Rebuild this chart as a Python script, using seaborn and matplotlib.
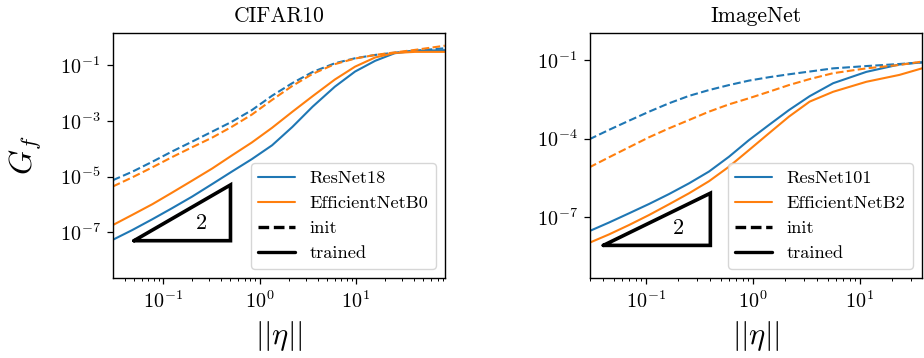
import matplotlib
matplotlib.use("Agg")
import matplotlib.pyplot as plt
from matplotlib.lines import Line2D
from matplotlib.ticker import NullLocator
import pandas as pd
import seaborn as sns

# ---------------- data ----------------
titles = ["CIFAR10", "ImageNet"]
models_cifar = ["ResNet18", "EfficientNetB0"]
models_imnet = ["ResNet101", "EfficientNetB2"]

cifar_eta = [0.0302, 0.0479, 0.0776, 0.123, 0.200, 0.324, 0.513, 0.832, 1.35, 2.19,
             3.55, 6.03, 9.77, 15.8, 25.1, 40.7, 83.2]
cifar_resnet_init = [7.4e-6, 1.48e-5, 3.4e-5, 7.8e-5, 1.78e-4, 4.1e-4, 9.1e-4, 2.4e-3, 7.9e-3, 2.24e-2,
                     5.6e-2, 0.115, 0.174, 0.229, 0.275, 0.324, 0.398]
cifar_effnet_init = [4.4e-6, 9.3e-6, 2.14e-5, 4.9e-5, 1.12e-4, 2.5e-4, 6.0e-4, 1.66e-3, 5.6e-3, 1.78e-2,
                     4.8e-2, 0.107, 0.170, 0.229, 0.282, 0.347, 0.49]
cifar_resnet_trained = [5.4e-8, 1.2e-7, 2.95e-7, 7.2e-7, 1.9e-6, 5.4e-6, 1.48e-5, 4.2e-5, 1.32e-4, 6.0e-4,
                        3.2e-3, 1.66e-2, 5.8e-2, 0.141, 0.263, 0.324, 0.339]
cifar_effnet_trained = [1.82e-7, 4.2e-7, 1.02e-6, 2.6e-6, 7.1e-6, 1.95e-5, 5.6e-5, 1.66e-4, 5.6e-4, 2.1e-3,
                        7.6e-3, 3.0e-2, 8.7e-2, 0.186, 0.269, 0.295, 0.295]

imnet_eta = [0.0295, 0.0451, 0.0693, 0.107, 0.164, 0.252, 0.388, 0.597, 0.918, 1.41,
             2.17, 3.39, 5.62, 11.5, 23.4, 38.0]
imnet_resnet_init = [9.3e-5, 2.14e-4, 4.8e-4, 1.07e-3, 2.24e-3, 4.3e-3, 7.2e-3, 1.12e-2, 1.66e-2, 2.24e-2,
                     2.9e-2, 3.7e-2, 4.9e-2, 6.0e-2, 7.2e-2, 8.3e-2]
imnet_effnet_init = [7.8e-6, 1.9e-5, 4.6e-5, 1.12e-4, 2.45e-4, 5.1e-4, 1.07e-3, 2.04e-3, 3.5e-3, 6.2e-3,
                     1.12e-2, 1.9e-2, 3.2e-2, 4.9e-2, 6.6e-2, 8.9e-2]
imnet_resnet_trained = [2.8e-8, 6.0e-8, 1.35e-7, 3.1e-7, 7.4e-7, 1.9e-6, 5.4e-6, 2.0e-5, 8.7e-5, 3.3e-4,
                        1.23e-3, 4.2e-3, 1.32e-2, 3.6e-2, 6.9e-2, 8.3e-2]
imnet_effnet_trained = [1.0e-8, 2.1e-8, 4.8e-8, 1.17e-7, 3.0e-7, 7.9e-7, 2.3e-6, 8.3e-6, 3.6e-5, 1.58e-4,
                        6.9e-4, 2.6e-3, 6.2e-3, 1.5e-2, 2.75e-2, 4.9e-2]

# slope-2 guide triangles (x pair, y pair) and label position
cifar_tri_x = [0.05, 0.5]
cifar_tri_y = [5e-8, 5e-6]
cifar_tri_label = (0.25, 2.2e-7)
imnet_tri_x = [0.04, 0.4]
imnet_tri_y = [8e-9, 8e-7]
imnet_tri_label = (0.2, 3.6e-8)
slope_label = "2"

cifar_xlim = (0.0303, 83.6)
cifar_ylim = (2.3e-9, 1.4)
imnet_xlim = (0.030, 38.0)
imnet_ylim = (4.5e-10, 1.11)
cifar_yticks = [1e-7, 1e-5, 1e-3, 1e-1]
imnet_yticks = [1e-7, 1e-4, 1e-1]

# ---------------- style ----------------
sns.set_theme(style="ticks")
plt.rcParams.update({
    "font.family": "serif",
    "font.serif": ["cmr10"],
    "mathtext.fontset": "cm",
    "axes.formatter.use_mathtext": True,
    "axes.edgecolor": "black",
    "axes.linewidth": 1.0,
    "text.color": "black",
    "axes.labelcolor": "black",
    "xtick.color": "black",
    "ytick.color": "black",
    "xtick.major.size": 4.5,
    "ytick.major.size": 4.5,
    "xtick.minor.size": 2.5,
    "ytick.minor.size": 2.5,
    "xtick.major.pad": 4.5,
    "ytick.major.pad": 4.5,
    "xtick.major.width": 0.9,
    "ytick.major.width": 0.9,
    "xtick.minor.width": 0.7,
    "ytick.minor.width": 0.7,
    "xtick.labelsize": 14.5,
    "ytick.labelsize": 14.5,
    "legend.fontsize": 13.2,
})

blue = "#1f77b4"
orange = "#ff7f0e"


def make_df(eta, models, r_init, e_init, r_tr, e_tr):
    rows = []
    for m, st, vals in [(models[0], "init", r_init), (models[1], "init", e_init),
                        (models[0], "trained", r_tr), (models[1], "trained", e_tr)]:
        for x, y in zip(eta, vals):
            rows.append({"eta": x, "G": y, "model": m, "state": st})
    return pd.DataFrame(rows)


df_c = make_df(cifar_eta, models_cifar, cifar_resnet_init, cifar_effnet_init,
               cifar_resnet_trained, cifar_effnet_trained)
df_i = make_df(imnet_eta, models_imnet, imnet_resnet_init, imnet_effnet_init,
               imnet_resnet_trained, imnet_effnet_trained)

fig, axes = plt.subplots(1, 2, figsize=(9.24, 3.58), dpi=100)
fig.subplots_adjust(left=0.1223, right=0.9978, bottom=0.2235, top=0.9078, wspace=0.4367)

panels = [
    (axes[0], df_c, models_cifar, cifar_tri_x, cifar_tri_y, cifar_tri_label, cifar_xlim, cifar_ylim, cifar_yticks),
    (axes[1], df_i, models_imnet, imnet_tri_x, imnet_tri_y, imnet_tri_label, imnet_xlim, imnet_ylim, imnet_yticks),
]

for k, (ax, df, models, tx, ty, tl, xl, yl, yt) in enumerate(panels):
    ax.set_xscale("log")
    ax.set_yscale("log")
    sns.lineplot(data=df, x="eta", y="G", hue="model", style="state",
                 hue_order=models, style_order=["init", "trained"],
                 palette=[blue, orange], dashes={"init": (3.7, 1.6), "trained": ""},
                 estimator=None, sort=False, linewidth=1.5, legend=False, ax=ax)
    # slope triangle
    ax.plot([tx[0], tx[1], tx[1], tx[0]], [ty[0], ty[0], ty[1], ty[0]],
            color="black", lw=2.6, solid_joinstyle="miter")
    ax.text(tl[0], tl[1], slope_label, fontsize=16, ha="center", va="center")
    ax.set_xlim(*xl)
    ax.set_ylim(*yl)
    ax.set_yticks(yt)
    ax.yaxis.set_minor_locator(NullLocator())
    ax.set_title(titles[k], fontsize=15.5, pad=8)
    ax.set_xlabel(r"$||\eta||$", fontsize=22, labelpad=5)
    if k == 0:
        ax.set_ylabel(r"$G_f$", fontsize=23, labelpad=11)
    else:
        ax.set_ylabel("")
    handles = [
        Line2D([], [], color=blue, lw=1.5),
        Line2D([], [], color=orange, lw=1.5),
        Line2D([], [], color="black", lw=2.4, linestyle=(0, (3.2, 1.4))),
        Line2D([], [], color="black", lw=2.4),
    ]
    ax.legend(handles, [models[0], models[1], "init", "trained"], loc="lower right",
              frameon=True, fancybox=True, framealpha=0.8, edgecolor="0.8")

fig.savefig("out.png", dpi=100)
